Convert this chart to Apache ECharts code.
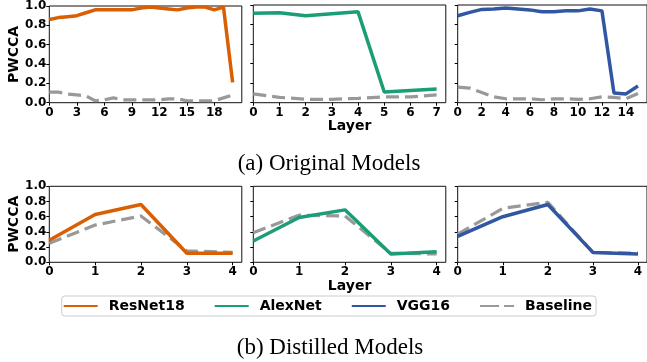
<!DOCTYPE html>
<html lang="en">
<head>
    <meta charset="UTF-8">
    <title>PWCCA</title>
    <script src="https://cdn.jsdelivr.net/npm/echarts@6/dist/echarts.min.js"></script>
    <style>
        html, body { margin: 0; padding: 0; background: #fff; }
        #main { width: 647px; height: 362px; }
    </style>
</head>
<body>
<div id="main"></div>
<script>
    // ---- data ----
    // (a) original models
    var resnetOrig   = [0.86, 0.88, 0.89, 0.90, 0.93, 0.96, 0.96, 0.96, 0.96, 0.96, 0.98, 0.99, 0.98, 0.97, 0.96, 0.98, 0.99, 0.99, 0.96, 0.99, 0.21];
    var resnetOrigBl = [0.11, 0.11, 0.09, 0.08, 0.07, 0.02, 0.03, 0.05, 0.03, 0.03, 0.03, 0.03, 0.03, 0.04, 0.04, 0.02, 0.02, 0.02, 0.02, 0.05, 0.08];
    var alexOrig     = [0.915, 0.92, 0.89, 0.91, 0.93, 0.11, 0.126, 0.14];
    var alexOrigBl   = [0.09, 0.055, 0.035, 0.035, 0.045, 0.06, 0.06, 0.08];
    var vggOrig      = [0.89, 0.925, 0.955, 0.96, 0.97, 0.96, 0.95, 0.93, 0.93, 0.94, 0.94, 0.96, 0.94, 0.10, 0.09, 0.17];
    var vggOrigBl    = [0.16, 0.15, 0.105, 0.06, 0.04, 0.04, 0.04, 0.03, 0.04, 0.04, 0.035, 0.04, 0.06, 0.055, 0.04, 0.095];
    // (b) distilled models
    var resnetDist   = [0.29, 0.63, 0.76, 0.12, 0.12];
    var resnetDistBl = [0.25, 0.49, 0.61, 0.15, 0.13];
    var alexDist     = [0.28, 0.59, 0.69, 0.11, 0.14];
    var alexDistBl   = [0.39, 0.62, 0.61, 0.12, 0.11];
    var vggDist      = [0.34, 0.60, 0.76, 0.13, 0.11];
    var vggDistBl    = [0.37, 0.71, 0.79, 0.13, 0.12];

    // tick labels
    var ticksResnet = [0, 3, 6, 9, 12, 15, 18];
    var ticksAlex   = [0, 1, 2, 3, 4, 5, 6, 7];
    var ticksVgg    = [0, 2, 4, 6, 8, 10, 12, 14];
    var ticksDist   = [0, 1, 2, 3, 4];
    var ticksY      = [0, 0.2, 0.4, 0.6, 0.8, 1.0];

    var names = ['ResNet18', 'AlexNet', 'VGG16', 'Baseline'];
    var colors = {ResNet18: '#d95f02', AlexNet: '#1b9e77', VGG16: '#3157a3', Baseline: '#999999'};

    var panels = [
        {model: 'ResNet18', vals: resnetOrig, base: resnetOrigBl, ticks: ticksResnet, max: 21},
        {model: 'AlexNet',  vals: alexOrig,   base: alexOrigBl,   ticks: ticksAlex,   max: 7.35},
        {model: 'VGG16',    vals: vggOrig,    base: vggOrigBl,    ticks: ticksVgg,    max: 15.75},
        {model: 'ResNet18', vals: resnetDist, base: resnetDistBl, ticks: ticksDist,   max: 4.2},
        {model: 'AlexNet',  vals: alexDist,   base: alexDistBl,   ticks: ticksDist,   max: 4.2},
        {model: 'VGG16',    vals: vggDist,    base: vggDistBl,    ticks: ticksDist,   max: 4.2}
    ];

    var colLeft = [49.3, 253.3, 457.7];
    var colWidth = 192.5;
    var rowTop = [5, 186.3];
    var rowHeight = [97.7, 76];

    var font = 'DejaVu Sans';

    function pairs(arr) {
        return arr.map(function (v, i) { return [i, v]; });
    }

    var grids = [], xAxes = [], yAxes = [], series = [];
    for (var i = 0; i < panels.length; i++) {
        var p = panels[i];
        var row = Math.floor(i / 3), col = i % 3;
        grids.push({
            left: colLeft[col], top: rowTop[row],
            width: colWidth, height: rowHeight[row],
            show: true, borderColor: '#111', borderWidth: 1, backgroundColor: 'transparent'
        });
        xAxes.push({
            gridIndex: i, type: 'value', min: 0, max: p.max,
            name: col === 1 ? 'Layer' : '',
            nameLocation: 'middle', nameGap: 17,
            nameTextStyle: {fontFamily: font, fontWeight: 'bold', fontSize: 14, color: '#000'},
            axisLine: {show: false},
            axisTick: {show: true, length: 3, customValues: p.ticks, lineStyle: {color: '#000'}},
            axisLabel: {customValues: p.ticks, margin: 4, fontFamily: font, fontWeight: 'bold', fontSize: 12, color: '#000'},
            splitLine: {show: false}
        });
        yAxes.push({
            gridIndex: i, type: 'value', min: 0, max: 1,
            name: col === 0 ? 'PWCCA' : '',
            nameLocation: 'middle', nameGap: 27, nameRotate: 90,
            nameTextStyle: {fontFamily: font, fontWeight: 'bold', fontSize: 14, color: '#000'},
            axisLine: {show: false},
            axisTick: {show: true, length: 3, customValues: ticksY, lineStyle: {color: '#000'}},
            axisLabel: {
                show: col === 0, customValues: ticksY, margin: 3,
                fontFamily: font, fontWeight: 'bold', fontSize: 12, color: '#000',
                formatter: function (v) { return v.toFixed(1); }
            },
            splitLine: {show: false}
        });
        series.push({
            name: 'Baseline', type: 'line', xAxisIndex: i, yAxisIndex: i,
            data: pairs(p.base), symbol: 'none', silent: true,
            lineStyle: {color: colors.Baseline, width: 3.2, type: [13, 6]},
            itemStyle: {color: colors.Baseline}
        });
        series.push({
            name: p.model, type: 'line', xAxisIndex: i, yAxisIndex: i,
            data: pairs(p.vals), symbol: 'none', silent: true,
            lineStyle: {color: colors[p.model], width: 3.5},
            itemStyle: {color: colors[p.model]}
        });
    }

    var myChart = echarts.init(document.getElementById('main'), null, {renderer: 'canvas'});
    var option = {
        animation: false,
        grid: grids,
        xAxis: xAxes,
        yAxis: yAxes,
        legend: {
            data: names.map(function (n) {
                return n === 'Baseline' ? {name: n, lineStyle: {type: [19, 5]}} : {name: n};
            }),
            left: 61.7, top: 296,
            padding: [3, 4, 3, 1],
            itemGap: 29, itemWidth: 34, itemHeight: 14,
            itemStyle: {opacity: 0},
            borderColor: '#cccccc', borderWidth: 1, borderRadius: 3,
            textStyle: {fontFamily: font, fontWeight: 'bold', fontSize: 14, color: '#000', padding: [0, 0, 0, 6]}
        },
        graphic: [
            {type: 'text', x: 329, y: 164, style: {text: '(a) Original Models', fontFamily: 'Liberation Serif', fontSize: 23, fill: '#000', align: 'center', verticalAlign: 'middle'}},
            {type: 'text', x: 330, y: 348, style: {text: '(b) Distilled Models', fontFamily: 'Liberation Serif', fontSize: 23, fill: '#000', align: 'center', verticalAlign: 'middle'}}
        ],
        series: series
    };
    myChart.setOption(option);
</script>
</body>
</html>
